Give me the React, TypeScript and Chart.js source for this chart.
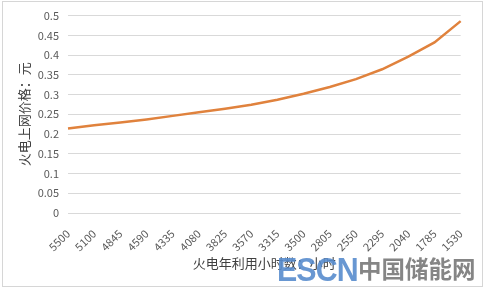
import React, { useEffect, useRef } from "react";
import { Chart, registerables } from "chart.js";

Chart.register(...registerables);

const categories = ["5500", "5100", "4845", "4590", "4335", "4080", "3825", "3570", "3315", "3500", "2805", "2550", "2295", "2040", "1785", "1530"];
const prices = [0.214, 0.222, 0.229, 0.237, 0.246, 0.255, 0.264, 0.274, 0.287, 0.302, 0.319, 0.339, 0.364, 0.396, 0.432, 0.486];
const xTitle = "火电年利用小时数：小时";
const yTitle = "火电上网价格：元";

const FONT = "'Noto Sans CJK SC', 'Noto Sans', sans-serif";

export default function App() {
  const ref = useRef<HTMLCanvasElement>(null);
  useEffect(() => {
    document.body.style.margin = "0";
    const ctx = ref.current!;
    const chart = new Chart(ctx, {
      type: "line",
      data: {
        labels: categories,
        datasets: [
          {
            data: prices,
            borderColor: "#e0823d",
            borderWidth: 2.5,
            pointRadius: 0,
            tension: 0,
            fill: false,
          },
        ],
      },
      options: {
        animation: false,
        responsive: false,
        maintainAspectRatio: false,
        layout: { padding: { left: 0, right: 14, top: 15, bottom: 0 } },
        plugins: { legend: { display: false }, tooltip: { enabled: false } },
        scales: {
          x: {
            grid: { display: false, drawTicks: false },
            border: { display: false },
            ticks: {
              color: "#595959",
              font: { family: FONT, size: 11 },
              minRotation: 45,
              maxRotation: 45,
              autoSkip: false,
              padding: 14,
            },
            title: {
              display: true,
              text: xTitle,
              color: "#404040",
              font: { family: FONT, size: 13 },
              padding: { top: 6, bottom: 18 },
            },
            afterFit: (s: any) => {
              s.height = 289 - 213;
            },
          },
          y: {
            min: 0,
            max: 0.5,
            grid: { color: "#d9d9d9", drawTicks: false, lineWidth: 1 },
            border: { display: false },
            ticks: {
              stepSize: 0.05,
              color: "#595959",
              font: { family: FONT, size: 11 },
              padding: 9,
              callback: (v: any) => String(Math.round(Number(v) * 100) / 100),
            },
            title: {
              display: true,
              text: yTitle,
              color: "#404040",
              font: { family: FONT, size: 13 },
              padding: { top: 16, bottom: 0 },
            },
            afterFit: (s: any) => {
              s.width = 68;
            },
          },
        },
      },
    });
    return () => chart.destroy();
  }, []);
  return (
    <div style={{ position: "absolute", left: 0, top: 0, width: 484, height: 289, background: "#fff", overflow: "hidden" }}>
      <canvas ref={ref} width={484} height={289} style={{ position: "absolute", left: 0, top: 0 }} />
      <div style={{ position: "absolute", left: 2, top: 1, width: 479, height: 284, border: "1px solid #d6d6d6", pointerEvents: "none" }} />
      <div
        style={{
          position: "absolute",
          left: 277,
          top: 250,
          fontFamily: "'Liberation Sans', Arial, sans-serif",
          fontWeight: "bold",
          fontSize: 33,
          lineHeight: "40px",
          color: "rgba(88,140,205,0.9)",
          transform: "scaleX(0.92)",
          transformOrigin: "left top",
          letterSpacing: "-1px",
        }}
      >
        ESCN
      </div>
      <div
        style={{
          position: "absolute",
          left: 358,
          top: 251,
          fontFamily: "'Noto Sans CJK SC', sans-serif",
          fontWeight: "bold",
          fontSize: 23.5,
          lineHeight: "34px",
          color: "rgba(120,120,120,0.9)",
          whiteSpace: "nowrap",
        }}
      >
        中国储能网
      </div>
    </div>
  );
}
